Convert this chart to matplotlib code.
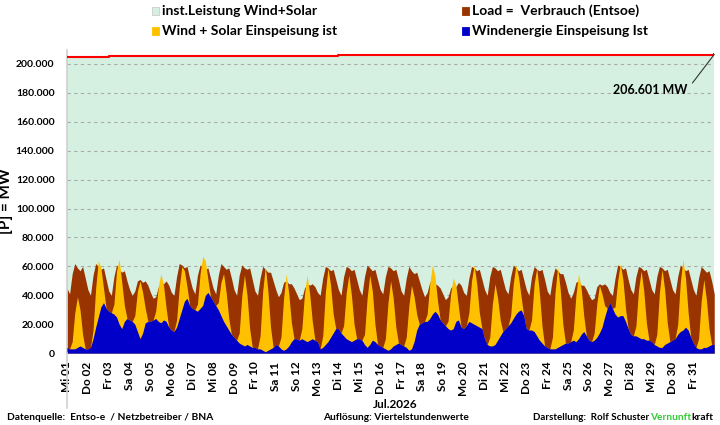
import numpy as np
import matplotlib
matplotlib.use('Agg')
import matplotlib.pyplot as plt
from matplotlib.patches import Rectangle
from matplotlib.lines import Line2D

plt.rcParams['font.family'] = ['Lato', 'DejaVu Sans']
plt.rcParams['font.weight'] = 'bold'

# Tageslabels Juli 2026
tage = ['Mi 01', 'Do 02', 'Fr 03', 'Sa 04', 'So 05', 'Mo 06', 'Di 07', 'Mi 08',
        'Do 09', 'Fr 10', 'Sa 11', 'So 12', 'Mo 13', 'Di 14', 'Mi 15', 'Do 16',
        'Fr 17', 'Sa 18', 'So 19', 'Mo 20', 'Di 21', 'Mi 22', 'Do 23', 'Fr 24',
        'Sa 25', 'So 26', 'Mo 27', 'Di 28', 'Mi 29', 'Do 30', 'Fr 31']

# Werte in 1000 MW, je Tag um 0, 3, 6, 9, 12, 15, 18, 21 Uhr
load = [
    [45, 41, 55, 62, 59, 57, 60, 52], [44, 40, 54, 62, 60, 58, 59, 51],
    [43, 40, 53, 61, 58, 56, 57, 50], [44, 40, 43, 50, 51, 49, 50, 47],
    [42, 38, 39, 46, 49, 48, 50, 47], [42, 40, 53, 62, 61, 59, 60, 52],
    [45, 41, 54, 61, 60, 58, 59, 52], [45, 41, 54, 62, 60, 58, 59, 52],
    [44, 40, 54, 61, 59, 58, 59, 51], [43, 40, 52, 60, 58, 56, 56, 50],
    [44, 39, 42, 49, 50, 48, 48, 45], [41, 37, 38, 45, 48, 47, 48, 46],
    [42, 40, 52, 60, 59, 57, 58, 51], [44, 40, 53, 60, 59, 57, 58, 51],
    [44, 40, 53, 61, 59, 57, 58, 51], [44, 41, 53, 60, 59, 57, 58, 51],
    [43, 40, 52, 60, 57, 55, 56, 50], [44, 39, 42, 49, 50, 48, 47, 45],
    [41, 37, 39, 45, 47, 46, 49, 47], [42, 40, 52, 60, 59, 57, 58, 51],
    [44, 40, 53, 60, 59, 57, 58, 51], [44, 41, 53, 61, 59, 57, 58, 51],
    [44, 40, 53, 60, 58, 57, 58, 51], [43, 40, 52, 59, 57, 55, 55, 49],
    [42, 38, 42, 49, 50, 47, 47, 44], [40, 37, 38, 46, 48, 47, 48, 46],
    [42, 40, 52, 61, 60, 58, 59, 51], [44, 41, 53, 60, 59, 57, 58, 51],
    [44, 41, 53, 60, 59, 57, 58, 51], [44, 41, 53, 61, 59, 57, 58, 51],
    [44, 40, 52, 60, 58, 56, 57, 50]]
load_ende = 41

wind_solar = [
    [4, 3, 8, 28, 39, 30, 13, 3], [3, 4, 16, 45, 64, 59, 45, 31],
    [29, 28, 34, 57, 65, 49, 33, 24], [23, 22, 26, 43, 50, 42, 31, 22],
    [22, 23, 29, 46, 55, 47, 31, 18], [16, 15, 23, 45, 60, 57, 46, 33],
    [31, 30, 34, 55, 67, 64, 51, 39], [36, 33, 35, 49, 55, 42, 24, 13],
    [11, 9, 14, 40, 54, 40, 17, 4], [4, 3, 12, 43, 60, 43, 18, 4],
    [6, 5, 11, 38, 55, 41, 21, 10], [10, 9, 17, 41, 54, 41, 22, 9],
    [8, 3, 12, 42, 59, 47, 27, 17], [17, 14, 19, 42, 54, 40, 20, 10],
    [10, 9, 13, 38, 54, 43, 20, 6], [5, 4, 10, 35, 50, 38, 18, 7],
    [6, 5, 11, 33, 47, 39, 27, 20], [21, 22, 27, 48, 61, 53, 36, 23],
    [21, 19, 22, 41, 52, 47, 32, 18], [17, 19, 28, 50, 61, 48, 28, 17],
    [10, 6, 11, 34, 48, 38, 23, 15], [17, 19, 26, 48, 61, 53, 39, 26],
    [17, 16, 23, 48, 59, 42, 19, 5], [4, 3, 11, 42, 60, 44, 20, 7],
    [7, 8, 16, 40, 55, 45, 26, 12], [9, 8, 14, 34, 47, 41, 33, 31],
    [35, 31, 32, 50, 62, 51, 31, 17], [13, 12, 19, 44, 57, 43, 21, 9],
    [8, 6, 13, 42, 58, 44, 21, 8], [9, 10, 20, 49, 65, 52, 28, 11],
    [7, 4, 10, 36, 51, 37, 17, 6]]
wind_solar_ende = 6

wind = [
    [4, 3, 3, 3, 4, 5, 4, 3], [3, 4, 10, 18, 25, 32, 35, 31],
    [29, 28, 27, 25, 20, 17, 22, 24], [23, 22, 20, 15, 10, 14, 21, 22],
    [22, 23, 24, 22, 21, 23, 22, 18], [16, 15, 18, 24, 30, 36, 38, 33],
    [31, 30, 29, 31, 33, 40, 42, 39], [36, 33, 30, 26, 22, 19, 16, 13],
    [11, 9, 7, 6, 5, 6, 5, 4], [4, 3, 3, 2, 1, 2, 3, 4],
    [6, 5, 3, 2, 3, 5, 8, 10], [10, 9, 10, 9, 8, 9, 10, 9],
    [8, 3, 4, 6, 8, 11, 14, 17], [17, 14, 12, 10, 9, 8, 9, 10],
    [10, 9, 6, 4, 6, 9, 8, 6], [5, 4, 3, 2, 3, 5, 6, 7],
    [6, 5, 4, 2, 3, 8, 16, 20], [21, 22, 22, 24, 27, 29, 27, 23],
    [21, 19, 17, 16, 17, 22, 23, 18], [17, 19, 22, 21, 20, 19, 18, 17],
    [10, 6, 5, 5, 6, 9, 12, 15], [17, 19, 21, 24, 27, 29, 30, 26],
    [17, 16, 16, 15, 12, 9, 7, 5], [4, 3, 3, 3, 4, 5, 6, 7],
    [7, 8, 9, 8, 10, 13, 15, 12], [9, 8, 9, 11, 14, 18, 25, 31],
    [35, 31, 27, 25, 26, 26, 22, 17], [13, 12, 12, 11, 10, 10, 9, 9],
    [8, 6, 5, 4, 4, 6, 7, 8], [9, 10, 13, 15, 16, 18, 16, 11],
    [7, 4, 3, 3, 4, 4, 5, 6]]
wind_ende = 6

# installierte Leistung Wind+Solar in MW, je Tag (+ Endwert)
inst = [205100, 205100, 205400, 205400, 205400, 205400, 205400, 205400,
        205400, 205700, 205700, 205700, 205700, 205950, 205950, 205950,
        205950, 206200, 206200, 206200, 206450, 206450, 206450, 206450,
        206450, 206450, 206450, 206450, 206450, 206450, 206450, 206601]

def reihe(werte, ende):
    return np.append(np.array(werte).ravel(), ende) * 1000

y_load = reihe(load, load_ende)
y_ws = reihe(wind_solar, wind_solar_ende)
y_wind = reihe(wind, wind_ende)
t = np.arange(len(y_load)) / 8.0
t_inst = np.arange(len(inst))

fig = plt.figure(figsize=(7.2, 4.25), dpi=100)
ax = fig.add_axes([0.093, 0.169, 0.899, 0.7145])

ax.fill_between(t_inst, 0, inst, step='post', color='#d5f0e1', lw=0, zorder=1)
ax.plot(t_inst, inst, drawstyle='steps-post', color='#ff0000', lw=1.5, zorder=5)
ax.fill_between(t, 0, y_load, color='#993300', lw=0, zorder=2)
ax.fill_between(t, 0, y_ws, color='#ffc000', lw=0, zorder=3)
ax.fill_between(t, 0, y_wind, color='#0000c8', lw=0, zorder=4)

ax.set_xlim(0, 31)
ax.set_ylim(0, 210000)
ax.set_yticks(range(0, 200001, 20000))
ax.set_yticklabels([f'{v:,}'.replace(',', '.') for v in range(0, 200001, 20000)],
                   fontsize=7.5, fontweight='bold')
ax.set_xticks(range(31))
ax.set_xticklabels(tage, rotation=90, fontsize=8.5, fontweight='bold')
ax.tick_params(axis='both', length=0)
ax.tick_params(axis='x', pad=6)
ax.tick_params(axis='y', pad=9)
ax.set_axisbelow('line')
ax.yaxis.grid(True, linestyle=(0, (3, 3)), color='#aaaaaa', lw=0.8)
for s in ['top', 'right']:
    ax.spines[s].set_visible(False)
ax.spines['left'].set_color('#d0d0d0')
ax.spines['bottom'].set_color('#d0d0d0')
ax.spines['left'].set_linewidth(1.2)
ax.set_ylabel('[P] = MW', fontsize=11, fontweight='bold')
ax.yaxis.set_label_coords(-0.083, 0.5)

ax.annotate('206.601 MW', xy=(31, 206601), xytext=(29.7, 182000),
            ha='right', va='center', fontsize=9, fontweight='bold',
            arrowprops=dict(arrowstyle='-', color='#333333', lw=0.8,
                            relpos=(1, 0.5), shrinkA=3, shrinkB=0), zorder=6)

# Linie links unterhalb der Achse
fig.add_artist(Line2D([0.093, 0.093], [0.04, 0.169], color='#d0d0d0', lw=1.2))

# Legende
eintraege = [(152, 11, '#d5f0e1', 'inst.Leistung Wind+Solar'),
             (462, 11, '#993300', 'Load =  Verbrauch (Entsoe)'),
             (152, 31, '#ffc000', 'Wind + Solar Einspeisung ist'),
             (462, 31, '#0000c8', 'Windenergie Einspeisung Ist')]
for px, py, farbe, text in eintraege:
    fig.add_artist(Rectangle((px / 720, 1 - (py + 4) / 425), 7 / 720, 8 / 425,
                             facecolor=farbe, edgecolor='#cccccc' if farbe == '#d5f0e1' else farbe,
                             lw=0.6, transform=fig.transFigure))
    fig.text((px + 10) / 720, 1 - py / 425, text, fontsize=10, fontweight='bold',
             va='center', ha='left')

# Fusszeile
fig.text(395 / 720, 1 - 404 / 425, 'Jul.2026', fontsize=8.5, fontweight='bold',
         ha='center', va='center')
fig.text(7 / 720, 1 - 417 / 425, 'Datenquelle:  Entso-e  / Netzbetreiber / BNA',
         fontsize=7.3, fontweight='bold', va='center')
fig.text(323 / 720, 1 - 417 / 425, 'Auflösung: Viertelstundenwerte',
         fontsize=7.3, fontweight='bold', va='center')
fig.text(533 / 720, 1 - 417 / 425, 'Darstellung:  Rolf Schuster',
         fontsize=7, fontweight='bold', va='center')
kt = fig.text(713 / 720, 1 - 417 / 425, 'kraft', fontsize=7.3, fontweight='bold',
              va='center', ha='right')
fig.canvas.draw()
bb = kt.get_window_extent()
fig.text(bb.x0 / fig.bbox.width, 1 - 417 / 425, 'Vernunft', fontsize=7.3,
         fontweight='bold', va='center', ha='right', color='#33cc33')

fig.savefig('out.png', dpi=100)
